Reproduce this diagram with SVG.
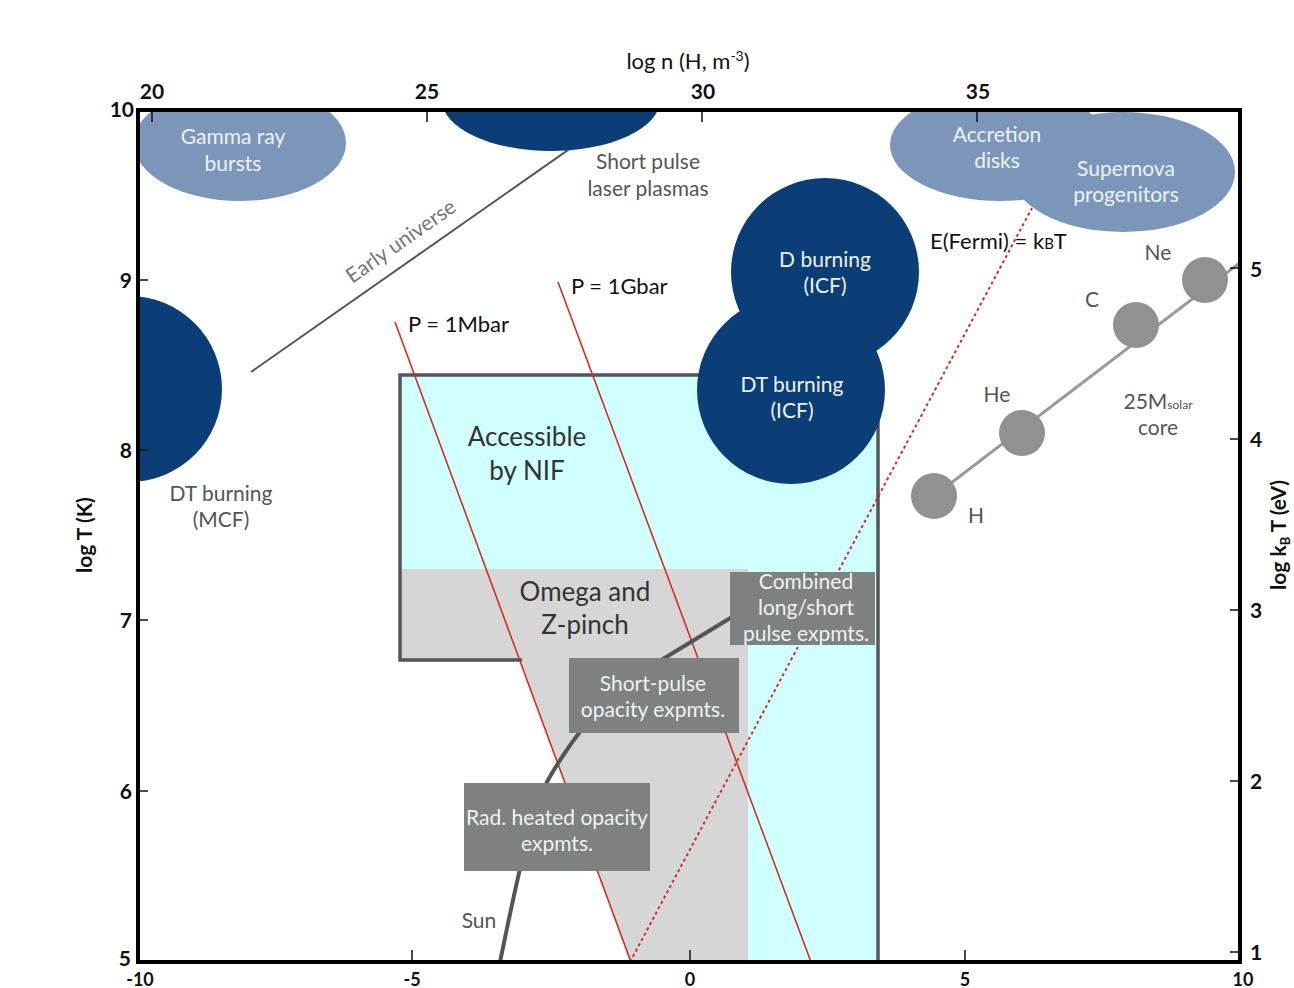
<svg xmlns="http://www.w3.org/2000/svg" width="1294" height="988" viewBox="0 0 1294 988">
<style>
text{font-family:Lato,"Open Sans","Liberation Sans",sans-serif}
.ax{font-size:22px;fill:#111}
.axb{font-size:21px;fill:#111;font-weight:bold}
.tk{font-size:21px;fill:#111;font-weight:bold}
.tkb{font-size:18px;fill:#111;font-weight:bold}
.lbl{font-size:21px;fill:#555;text-anchor:middle}
.wl{font-size:21px;fill:#EEF2F6;text-anchor:middle}
.big{font-size:26px;fill:#333;text-anchor:middle}
.blk{font-size:22px;fill:#111}
.lightblue{fill:#7C96BA}
.navy{fill:#0B3E76}
.gbox{fill:#7D827F}
.star{fill:#8F9290}
.tick{stroke:#111;stroke-width:1.5}
.red{stroke:#D03020;stroke-width:1.6;fill:none}
</style>
<defs>
<clipPath id="plot"><rect x="138" y="110" width="1102" height="852"/></clipPath>
</defs>
<rect width="1294" height="988" fill="#fff"/>
<g clip-path="url(#plot)">
<g id="nif">
<rect x="400" y="375" width="478" height="194" fill="#CFFFFF"/>
<rect x="748" y="569" width="130" height="393" fill="#CFFFFF"/>
</g>
<g id="omega">
<polygon points="400,569 748,569 748,962 630,962 520,660 400,660" fill="#D6D6D6"/>
</g>
<polyline points="522,660 400,660 400,375 878,375 878,962" fill="none" stroke="#555" stroke-width="3.5"/>
<g id="connectors">
<line id="early-universe-line" x1="251" y1="372" x2="628" y2="108" stroke="#555" stroke-width="2"/>
<line id="p-mbar" class="red" x1="395" y1="322" x2="631" y2="962"/>
<line id="p-gbar" class="red" x1="558" y1="282" x2="811" y2="962"/>
<line id="fermi" x1="630" y1="962" x2="1032" y2="208" stroke="#D03020" stroke-width="2" stroke-dasharray="3,3"/>
<path id="sun-curve" d="M500,962 C512,905 528,820 548,780 C568,745 600,700 640,673 L732,617" fill="none" stroke="#555" stroke-width="4"/>
<line id="star-track" x1="934" y1="496" x2="1242" y2="261" stroke="#999" stroke-width="3"/>
</g>
<g id="gamma"><ellipse class="lightblue" cx="240" cy="143" rx="106" ry="58"/></g>
<g id="shortpulse"><ellipse class="navy" cx="551" cy="100" rx="109" ry="51"/></g>
<g id="accretion"><ellipse class="lightblue" cx="1000" cy="145" rx="110" ry="56"/></g>
<g id="supernova"><ellipse class="lightblue" cx="1123" cy="172" rx="112" ry="60"/></g>
<g id="dtmcf"><circle class="navy" cx="129" cy="389" r="93"/></g>
<g id="dburn"><circle class="navy" cx="825" cy="272" r="94"/></g>
<g id="dticf"><circle class="navy" cx="791" cy="390" r="94"/></g>
<g id="combined"><rect class="gbox" x="730" y="572" width="145" height="73"/></g>
<g id="shortop"><rect class="gbox" x="569" y="658" width="170" height="75"/></g>
<g id="radheat"><rect class="gbox" x="464" y="783" width="186" height="88"/></g>
<g id="stars">
<circle class="star" cx="934" cy="496" r="23"/>
<circle class="star" cx="1022" cy="433" r="23"/>
<circle class="star" cx="1136" cy="325" r="23"/>
<circle class="star" cx="1205" cy="280" r="23"/>
</g>
</g>
<g id="axes">
<rect x="138" y="110" width="1102" height="852" fill="none" stroke="#000" stroke-width="4"/>
<path class="tick" d="M152,112V122M427,112V122M702,112V122M977,112V122M140,280H148M140,450H148M140,620H148M140,791H148M1238,268H1230M1238,439H1230M1238,610H1230M1238,781H1230M1238,952H1230M412,960V950M690,960V950M965,960V950"/>
<g class="tk" text-anchor="middle">
<text x="152" y="99">20</text><text x="427" y="99">25</text><text x="703" y="99">30</text><text x="978" y="99">35</text>
</g>
<g class="tkb" text-anchor="middle">
<text x="140" y="986">-10</text><text x="412" y="986">-5</text><text x="690" y="986">0</text><text x="965" y="986">5</text><text x="1243" y="986">10</text>
</g>
<g class="tk" text-anchor="end">
<text x="134" y="117">10</text><text x="132" y="288">9</text><text x="132" y="458">8</text><text x="132" y="628">7</text><text x="132" y="799">6</text><text x="131" y="966">5</text>
</g>
<g class="tk">
<text x="1250" y="277">5</text><text x="1250" y="447">4</text><text x="1250" y="618">3</text><text x="1250" y="789">2</text><text x="1250" y="960">1</text>
</g>
<text class="ax" x="688" y="69" text-anchor="middle">log n (H, m<tspan font-size="14" dy="-8">-3</tspan><tspan dy="8">)</tspan></text>
<text class="axb" x="0" y="0" text-anchor="middle" transform="translate(92,535) rotate(-90)">log T (K)</text>
<text class="axb" x="0" y="0" text-anchor="middle" transform="translate(1286,535) rotate(-90)">log k<tspan font-size="13" dy="4">B</tspan><tspan dy="-4"> T (eV)</tspan></text>
</g>
<g id="labels">
<text class="wl" x="233" y="144">Gamma ray</text><text class="wl" x="233" y="171">bursts</text>
<text class="lbl" x="648" y="169">Short pulse</text><text class="lbl" x="648" y="196">laser plasmas</text>
<text class="wl" x="997" y="142">Accretion</text><text class="wl" x="997" y="168">disks</text>
<text class="wl" x="1126" y="176">Supernova</text><text class="wl" x="1126" y="202">progenitors</text>
<text class="lbl" x="0" y="0" font-size="20" transform="translate(405,247) rotate(-35)" style="fill:#777">Early universe</text>
<text class="wl" x="825" y="267">D burning</text><text class="wl" x="825" y="293">(ICF)</text>
<text class="wl" x="792" y="392">DT burning</text><text class="wl" x="792" y="418">(ICF)</text>
<text class="blk" x="571" y="294">P = 1Gbar</text>
<text class="blk" x="408" y="332">P = 1Mbar</text>
<text class="blk" x="930" y="249">E(Fermi) = k<tspan font-size="15">B</tspan>T</text>
<text class="lbl" x="1158" y="260">Ne</text>
<text class="lbl" x="1092" y="307">C</text>
<text class="lbl" x="997" y="402">He</text>
<text class="lbl" x="976" y="523">H</text>
<text class="lbl" x="1158" y="409">25M<tspan font-size="12">solar</tspan></text>
<text class="lbl" x="1158" y="435">core</text>
<text class="big" x="527" y="446">Accessible</text><text class="big" x="527" y="480">by NIF</text>
<text class="lbl" x="221" y="501">DT burning</text><text class="lbl" x="221" y="527">(MCF)</text>
<text class="big" x="585" y="601">Omega and</text><text class="big" x="585" y="634">Z-pinch</text>
<text class="wl" x="806" y="589">Combined</text><text class="wl" x="806" y="615">long/short</text><text class="wl" x="806" y="641">pulse expmts.</text>
<text class="wl" x="653" y="691">Short-pulse</text><text class="wl" x="653" y="717">opacity expmts.</text>
<text class="wl" x="557" y="825">Rad. heated opacity</text><text class="wl" x="557" y="851">expmts.</text>
<text class="lbl" x="479" y="928">Sun</text>
</g>
</svg>
